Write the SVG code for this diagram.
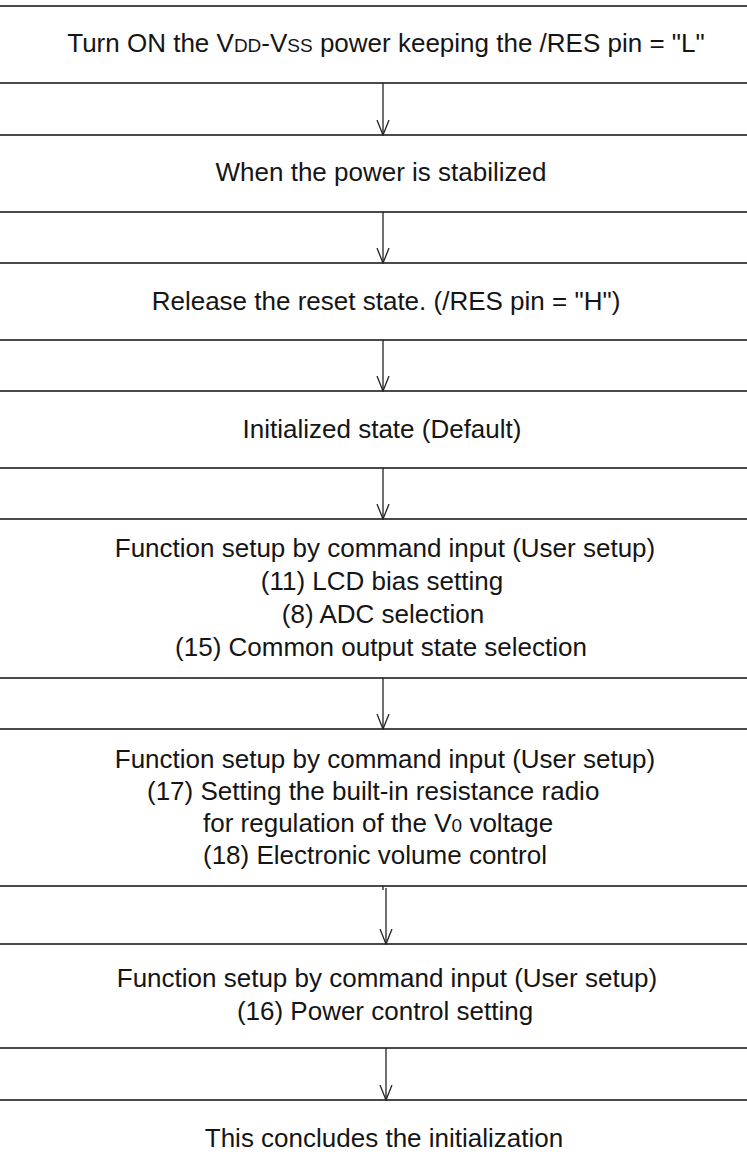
<svg xmlns="http://www.w3.org/2000/svg" width="747" height="1171" viewBox="0 0 747 1171">
<style>
.box{fill:#fff;stroke:#4a4a4a;stroke-width:2}
.t{font-family:"Liberation Sans",Arial,sans-serif;font-size:26px;fill:#151515}
.c{text-anchor:middle}
.sm{font-size:19px}
.con{stroke:#222;stroke-width:1.3;fill:none}
</style>
<defs>
<marker id="arr" viewBox="0 0 16 14" refX="15" refY="7" markerWidth="16" markerHeight="14" markerUnits="userSpaceOnUse" orient="auto">
<path d="M0,1 L15,7 L0,13" fill="none" stroke="#222" stroke-width="1.3"/>
</marker>
</defs>
<rect width="747" height="1171" fill="#fff"/>
<g id="n1"><rect class="box" x="-3" y="6" width="753" height="77"/>
<text class="t c" x="386" y="52">Turn ON the V<tspan class="sm">DD</tspan>-V<tspan class="sm">SS</tspan> power keeping the /RES pin = "L"</text></g>
<g id="n2"><rect class="box" x="-3" y="135" width="753" height="77"/>
<text class="t c" x="381" y="181">When the power is stabilized</text></g>
<g id="n3"><rect class="box" x="-3" y="263" width="753" height="77"/>
<text class="t c" x="386" y="310">Release the reset state. (/RES pin = "H")</text></g>
<g id="n4"><rect class="box" x="-3" y="391" width="753" height="77"/>
<text class="t c" x="382" y="438">Initialized state (Default)</text></g>
<g id="n5"><rect class="box" x="-3" y="519" width="753" height="159"/>
<text class="t c" x="385" y="557">Function setup by command input (User setup)</text>
<text class="t c" x="382" y="590">(11) LCD bias setting</text>
<text class="t c" x="383" y="623">(8) ADC selection</text>
<text class="t c" x="381" y="656">(15) Common output state selection</text></g>
<g id="n6"><rect class="box" x="-3" y="729" width="753" height="157"/>
<text class="t c" x="385" y="768">Function setup by command input (User setup)</text>
<text class="t" x="147" y="800">(17) Setting the built-in resistance radio</text>
<text class="t" x="203" y="832">for regulation of the V<tspan class="sm">0</tspan> voltage</text>
<text class="t" x="203" y="864">(18) Electronic volume control</text></g>
<g id="n7"><rect class="box" x="-3" y="944" width="753" height="104"/>
<text class="t c" x="387" y="987">Function setup by command input (User setup)</text>
<text class="t c" x="385" y="1020">(16) Power control setting</text></g>
<g id="n8"><rect class="box" x="-3" y="1100" width="753" height="90"/>
<text class="t c" x="384" y="1147">This concludes the initialization</text></g>
<g id="connectors">
<line class="con" x1="383" y1="83" x2="383" y2="135" marker-end="url(#arr)"/>
<line class="con" x1="383" y1="212" x2="383" y2="263" marker-end="url(#arr)"/>
<line class="con" x1="383" y1="340" x2="383" y2="391" marker-end="url(#arr)"/>
<line class="con" x1="383" y1="468" x2="383" y2="519" marker-end="url(#arr)"/>
<line class="con" x1="383" y1="678" x2="383" y2="729" marker-end="url(#arr)"/>
<line class="con" x1="383" y1="886" x2="383" y2="890"/>
<line class="con" x1="386" y1="888" x2="386" y2="944" marker-end="url(#arr)"/>
<line class="con" x1="386" y1="1048" x2="386" y2="1100" marker-end="url(#arr)"/>
</g>
</svg>
